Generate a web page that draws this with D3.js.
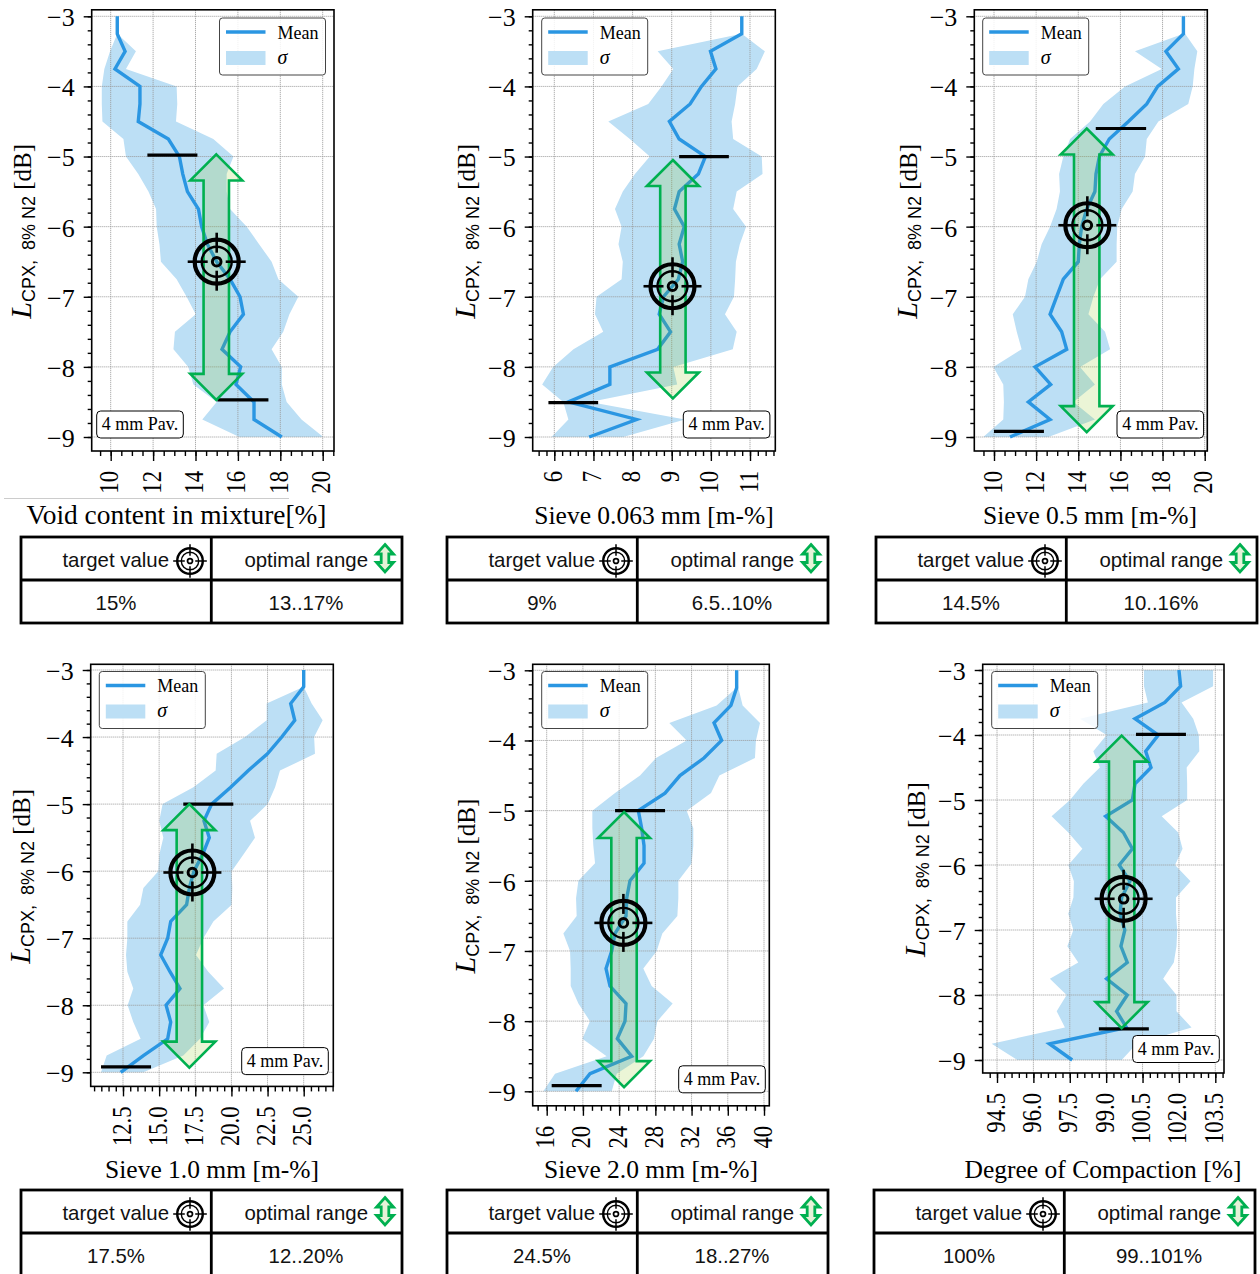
<!DOCTYPE html>
<html>
<head>
<meta charset="utf-8">
<script src="https://cdn.jsdelivr.net/npm/d3@7"></script>
<style>
html,body{margin:0;padding:0;background:#fff;overflow:hidden;}
svg{display:block;}
.serif{font-family:"Liberation Serif",serif;}
.sans{font-family:"Liberation Sans",sans-serif;}
</style>
</head>
<body>
<div id="chart"></div>
<script>
const levels=[-3,-3.25,-3.5,-3.75,-4,-4.25,-4.5,-4.75,-5,-5.25,-5.5,-5.75,-6,-6.25,-6.5,-6.75,-7,-7.25,-7.5,-7.75,-8,-8.25,-8.5,-8.75,-9];

const voidMean=[10.31,10.31,10.68,10.2,11.38,11.38,11.3,12.72,13.24,13.4,13.62,14.14,14.29,14.56,15.0,15.63,16.1,16.26,15.63,15.25,16.13,15.91,16.76,16.76,18.07];
const voidLow=[10.31,10.31,9.97,9.70,9.58,9.58,9.61,10.6,10.72,11.3,11.78,12.14,12.17,12.3,12.37,13.11,13.58,14.01,13.03,12.96,13.66,13.9,15.0,14.32,16.07];
const voidHigh=[10.31,10.31,11.19,10.72,13.11,13.14,13.08,14.84,15.79,15.47,15.47,15.63,16.42,17.0,17.59,17.91,18.85,18.43,18.14,17.59,18.07,18.07,18.3,19.0,20.03];

const s063Mean=[10.79,10.79,9.99,10.13,9.76,9.47,8.94,9.19,9.86,9.68,9.19,9.07,9.32,9.19,9.28,9.17,8.79,8.68,8.97,8.64,7.42,7.42,6.36,8.10,6.89];
const s063Low=[10.79,10.79,8.64,9.04,8.74,8.40,7.38,7.93,8.44,8.06,7.75,7.55,7.72,7.64,7.75,7.72,7.08,7.04,7.25,6.49,5.97,5.69,6.23,6.36,5.93];
const s063High=[10.79,10.79,11.38,11.17,10.68,10.62,10.53,10.57,11.3,11.32,10.66,10.57,10.9,10.74,10.64,10.62,10.59,10.36,10.66,10.56,9.04,9.14,6.91,9.34,7.76];

const s05Mean=[18.99,18.99,18.16,18.75,17.77,17.25,16.38,15.47,15.0,14.84,14.79,14.4,14.16,14.05,14.0,13.29,12.97,12.66,13.21,13.45,11.95,12.69,11.63,12.66,10.76];
const s05Low=[18.99,18.99,16.69,17.96,16.22,15.19,14.56,13.61,13.29,13.09,13.13,12.97,12.66,12.26,12.03,11.63,11.47,10.89,11.08,11.31,9.97,10.44,10.47,10.44,9.49];
const s05High=[18.99,19.07,19.65,19.51,19.43,19.22,17.8,17.25,17.17,16.69,16.58,16.06,15.85,15.82,15.82,15.03,14.72,14.48,15.27,15.51,14.08,14.79,13.77,14.79,12.58];

const s10Mean=[25.0,25.0,24.1,24.38,23.48,22.49,21.17,19.95,18.63,18.1,18.47,18.01,17.41,17.09,16.9,15.8,15.59,15.11,15.75,16.44,15.48,15.8,15.59,13.91,12.34];
const s10Low=[25,25,22.44,22.44,20.94,18.98,18.91,17.37,15.24,15.01,15.29,15.01,14.94,13.91,13.68,12.8,12.8,12.71,12.8,13.21,12.82,13.21,13.72,11.37,10.98];
const s10High=[25,25,25.55,26.31,25.72,25.78,23.36,23.02,22.51,21.29,21.63,20.83,20.02,20.06,20.02,18.75,18.06,17.55,18.4,19.49,18.06,18.47,17.83,16.67,13.91];

const s20Mean=[36.98,36.98,36.35,34.48,35.32,33.37,30.72,29.07,26.12,26.49,26.75,26.75,25.2,24.83,24.76,23.55,23.18,22.55,22.99,24.76,24.65,23.8,25.39,20.78,19.24];
const s20Low=[36.98,36.98,34.77,29.54,31.46,28.07,26.31,23.55,21.04,21.04,21.15,21.34,19.5,19.24,19.31,17.84,18.58,18.65,18.65,19.5,20.78,19.94,22.62,16.92,15.63];
const s20High=[36.98,37.16,37.64,39.56,39.11,39.0,35.07,34.15,31.46,32.19,32.19,32.01,30.54,30.54,30.43,28.77,28.15,26.67,27.59,29.91,28.22,27.85,26.67,23.73,23.18];

const compMean=[102.0,102.07,101.42,100.19,101.15,100.63,100.85,100.19,100.08,98.98,99.71,100.08,99.54,99.98,99.64,99.57,99.77,99.61,99.87,99.02,99.87,99.43,99.84,96.66,97.6];
const compLow=[100.56,100.56,100.72,97.92,99.02,98.47,98.74,98.06,97.51,96.75,97.44,98.02,97.44,97.67,97.65,97.44,97.65,97.4,97.85,96.68,97.37,96.96,97.3,94.28,95.34];
const compHigh=[103.41,103.41,102.11,102.59,102.82,102.84,102.32,102.34,102.34,101.29,101.97,102.15,101.84,102.48,101.88,101.88,101.93,101.9,101.79,101.35,101.9,101.9,102.52,100.26,99.64];

const titles=["Void content in mixture[%]","Sieve 0.063 mm [m-%]","Sieve 0.5 mm [m-%]","Sieve 1.0 mm [m-%]","Sieve 2.0 mm [m-%]","Degree of Compaction [%]"];
const xTicks=[[10,12,14,16,18,20],[6,7,8,9,10,11],[10,12,14,16,18,20],[12.5,15,17.5,20,22.5,25],[16,20,24,28,32,36,40],[94.5,96,97.5,99,100.5,102,103.5]];
const yTicks=[-3,-4,-5,-6,-7,-8,-9];
const minorSteps=[0.5,0.2,0.5,0.5,1,0.3];
const tickFormats=["d","d","d",".1f","d",".1f"];

// target marker [x,y], optimal range arrow [x,top,bottom]
const targets=[[15,-6.5],[9.02,-6.85],[14.43,-5.98],[17.3,-6.02],[24.47,-6.6],[99.72,-6.52]];
const arrows=[[14.98,-4.97,-8.47],[9.03,-5.05,-8.45],[14.4,-4.6,-8.93],[17.09,-5,-8.93],[24.54,-5.02,-8.94],[99.64,-4.01,-8.51]];
// black limit bars [xStart,xEnd,y]
const limitBars=[
  [[11.73,14.09,-4.98],[15.03,17.44,-8.47]],
  [[9.19,10.46,-5.0],[5.85,7.12,-8.51]],
  [[14.83,17.22,-4.6],[10.0,12.37,-8.92]],
  [[16.67,20.13,-5.0],[10.98,14.44,-8.92]],
  [[23.55,29.07,-5.0],[16.55,22.07,-8.92]],
  [[100.23,102.29,-3.99],[98.7,100.76,-8.52]]
];
const targetLabels=["15%","9%","14.5%","17.5%","24.5%","100%"];
const rangeLabels=["13..17%","6.5..10%","10..16%","12..20%","18..27%","99..101%"];

// page layout of each panel
const layouts=[
  {left:91.7,right:334,top:9.8,bottom:451,y3:16.3,y9:437,t0:110.7,t1:322.7,legend:[219.5,18],tag:[96.7,411],labelX:31,titleX:176.5,titleY:524,table:[21,537],size:27.4},
  {left:532.7,right:775.3,top:9.8,bottom:451,y3:16.3,y9:437,t0:554.3,t1:750,legend:[541.7,18],tag:[683.3,411],labelX:475,titleX:654,titleY:523.5,table:[447,537],size:25.5},
  {left:974.3,right:1207.3,top:9.8,bottom:451,y3:16.3,y9:437,t0:994,t1:1204.7,legend:[982.7,18],tag:[1117,411],labelX:917,titleX:1090,titleY:523.5,table:[876,537],size:25.5},
  {left:90.7,right:333.3,top:664.3,bottom:1086.4,y3:670,y9:1072.3,t0:123,t1:303.7,legend:[99.3,671.5],tag:[241.7,1047.6],labelX:30,titleX:212,titleY:1177.5,table:[21,1190],size:25.5},
  {left:532.7,right:769.3,top:664.3,bottom:1105.8,y3:670.3,y9:1091.3,t0:546.7,t1:764,legend:[541.7,671.5],tag:[678.7,1065.8],labelX:475,titleX:651,titleY:1177.5,table:[447,1190],size:25.5},
  {left:982.7,right:1224,top:664.3,bottom:1073,y3:670,y9:1060,t0:997,t1:1215.3,legend:[991.7,671.5],tag:[1132.7,1035.5],labelX:925,titleX:1103,titleY:1177.5,table:[874,1190],size:25.5}
];
const series=[[voidMean,voidLow,voidHigh],[s063Mean,s063Low,s063High],[s05Mean,s05Low,s05High],[s10Mean,s10Low,s10High],[s20Mean,s20Low,s20High],[compMean,compLow,compHigh]];

const lineColor="#2a96e2";
const bandColor="#bcdff5";
const green="#00b050";

const svg=d3.select("#chart").append("svg").attr("width",1260).attr("height",1274);

// stray rule under the first panel
svg.append("line").attr("x1",4).attr("x2",289).attr("y1",498.5).attr("y2",498.5).attr("stroke","#ccc").attr("stroke-width",1);

function arrowPath(cx,top,bottom,shaft,head,len){
  return "M"+cx+","+top+"L"+(cx+head)+","+(top+len)+"L"+(cx+shaft)+","+(top+len)+"L"+(cx+shaft)+","+(bottom-len)
    +"L"+(cx+head)+","+(bottom-len)+"L"+cx+","+bottom+"L"+(cx-head)+","+(bottom-len)+"L"+(cx-shaft)+","+(bottom-len)
    +"L"+(cx-shaft)+","+(top+len)+"L"+(cx-head)+","+(top+len)+"Z";
}

function drawTarget(parent,cx,cy,k){
  const g=parent.append("g").attr("transform","translate("+cx+","+cy+") scale("+k+")").attr("fill","none").attr("stroke","#000");
  g.append("circle").attr("r",22).attr("stroke-width",4.2);
  g.append("circle").attr("r",15).attr("stroke-width",2.4);
  g.append("circle").attr("r",4.3).attr("stroke-width",3);
  [[1,0],[-1,0],[0,1],[0,-1]].forEach(d=>{
    g.append("line").attr("x1",d[0]*9).attr("y1",d[1]*9).attr("x2",d[0]*29).attr("y2",d[1]*29).attr("stroke-width",2.6);
  });
}

function drawPanel(i){
  const lay=layouts[i];
  const mean=series[i][0],low=series[i][1],high=series[i][2];
  const ticks=xTicks[i];
  const x=d3.scaleLinear().domain([ticks[0],ticks[ticks.length-1]]).range([lay.t0,lay.t1]);
  const y=d3.scaleLinear().domain([-3,-9]).range([lay.y3,lay.y9]);
  const g=svg.append("g");

  const area=d3.area().x0((d,j)=>x(low[j])).x1((d,j)=>x(high[j])).y(d=>y(d));
  g.append("path").datum(levels).attr("d",area).attr("fill",bandColor);

  // grid
  g.append("g").selectAll("line").data(ticks).enter().append("line")
    .attr("x1",d=>x(d)).attr("x2",d=>x(d)).attr("y1",lay.top).attr("y2",lay.bottom)
    .attr("stroke","#999").attr("stroke-width",1).attr("stroke-dasharray","1,1");
  g.append("g").selectAll("line").data(yTicks).enter().append("line")
    .attr("x1",lay.left).attr("x2",lay.right).attr("y1",d=>y(d)).attr("y2",d=>y(d))
    .attr("stroke","#999").attr("stroke-width",1).attr("stroke-dasharray","1,1");

  const line=d3.line().x((d,j)=>x(mean[j])).y(d=>y(d));
  g.append("path").datum(levels).attr("d",line).attr("fill","none").attr("stroke",lineColor).attr("stroke-width",3.4);

  limitBars[i].forEach(b=>{
    g.append("line").attr("x1",x(b[0])).attr("x2",x(b[1])).attr("y1",y(b[2])).attr("y2",y(b[2]))
      .attr("stroke","#000").attr("stroke-width",3.2);
  });

  const a=arrows[i];
  g.append("path").attr("d",arrowPath(x(a[0]),y(a[1]),y(a[2]),12.7,26,26))
    .attr("fill","#89c20c").attr("fill-opacity",0.17).attr("stroke",green).attr("stroke-width",2.6);

  drawTarget(g,x(targets[i][0]),y(targets[i][1]),1);

  // frame
  g.append("rect").attr("x",lay.left).attr("y",lay.top).attr("width",lay.right-lay.left).attr("height",lay.bottom-lay.top)
    .attr("fill","none").attr("stroke","#000").attr("stroke-width",1.6);

  // axes
  const step=minorSteps[i];
  const minorX=d3.range(Math.ceil(x.invert(lay.left)/step)*step,x.invert(lay.right),step);
  const axisX=g.append("g").attr("transform","translate(0,"+lay.bottom+")");
  axisX.call(d3.axisBottom(x).tickValues(minorX).tickSize(5).tickFormat(""));
  const majorX=g.append("g").attr("transform","translate(0,"+lay.bottom+")");
  majorX.call(d3.axisBottom(x).tickValues(ticks).tickSize(10).tickFormat(d3.format(tickFormats[i])));
  // the source labels are squeezed along their length
  majorX.selectAll("text")
    .attr("class","serif").style("font-size","27px").attr("fill","#000")
    .attr("text-anchor","end").attr("dy","0.26em").attr("x",0).attr("y",0)
    .attr("transform","translate(0,20) rotate(-90) scale(0.84,1)");

  const minorY=d3.range(-9,-2.99,0.2);
  const axisY=g.append("g").attr("transform","translate("+lay.left+",0)");
  axisY.call(d3.axisLeft(y).tickValues(minorY).tickSize(4).tickFormat(""));
  const majorY=g.append("g").attr("transform","translate("+lay.left+",0)");
  majorY.call(d3.axisLeft(y).tickValues(yTicks).tickSize(8).tickPadding(9).tickFormat(d3.format("d")));
  majorY.selectAll("text").attr("class","serif").style("font-size","26px").attr("fill","#000").attr("dy","0.36em");
  g.selectAll(".domain").remove();
  g.selectAll(".tick line").attr("stroke","#000").attr("stroke-width",1.4);

  // y label
  const mid=(lay.top+lay.bottom)/2+1;
  const lab=g.append("text").attr("transform","translate("+lay.labelX+","+mid+") rotate(-90)").attr("text-anchor","middle").attr("fill","#000");
  lab.append("tspan").attr("class","serif").attr("font-style","italic").attr("font-size",30).text("L");
  lab.append("tspan").attr("class","sans").attr("font-size",18).attr("dy",4).text("CPX,\u00a0\u00a08%\u00a0N2");
  lab.append("tspan").attr("class","serif").attr("font-size",25).attr("dy",-4).text("\u00a0[dB]");

  // x title
  g.append("text").attr("class","serif").attr("x",lay.titleX).attr("y",lay.titleY).attr("text-anchor","middle")
    .attr("font-size",lay.size).attr("fill","#000").text(titles[i]);

  // legend
  const lg=g.append("g").attr("transform","translate("+lay.legend[0]+","+lay.legend[1]+")");
  lg.append("rect").attr("width",106).attr("height",57).attr("rx",3).attr("fill","#fff").attr("fill-opacity",0.85).attr("stroke","#444").attr("stroke-width",1);
  lg.append("line").attr("x1",6.5).attr("x2",46).attr("y1",14).attr("y2",14).attr("stroke",lineColor).attr("stroke-width",3.4);
  lg.append("rect").attr("x",6.5).attr("y",33).attr("width",39.5).attr("height",14).attr("fill",bandColor);
  lg.append("text").attr("class","serif").attr("x",58).attr("y",20.5).attr("font-size",18).attr("fill","#000").text("Mean");
  lg.append("text").attr("class","serif").attr("x",58).attr("y",45.5).attr("font-size",20).attr("font-style","italic").attr("fill","#000").text("\u03c3");

  // pavement tag
  const tg=g.append("g").attr("transform","translate("+lay.tag[0]+","+lay.tag[1]+")");
  tg.append("rect").attr("width",86.6).attr("height",27).attr("rx",4).attr("fill","#fff").attr("stroke","#000").attr("stroke-width",1);
  tg.append("text").attr("class","serif").attr("x",43.3).attr("y",19).attr("text-anchor","middle").attr("font-size",18).attr("fill","#000").text("4 mm Pav.");

  drawTable(i);
}

function drawTable(i){
  const tx=layouts[i].table[0],ty=layouts[i].table[1];
  const w=381,h=86,col=190.3,row=43;
  const t=svg.append("g").attr("transform","translate("+tx+","+ty+")");
  t.append("rect").attr("width",w).attr("height",h).attr("fill","#fff").attr("stroke","#000").attr("stroke-width",2.8);
  t.append("line").attr("x1",col).attr("x2",col).attr("y1",0).attr("y2",h).attr("stroke","#000").attr("stroke-width",2.8);
  t.append("line").attr("x1",0).attr("x2",w).attr("y1",row).attr("y2",row).attr("stroke","#000").attr("stroke-width",2.8);
  const label=(x,y,anchor,txt)=>t.append("text").attr("class","sans").attr("x",x).attr("y",y).attr("text-anchor",anchor)
    .attr("font-size",20.4).attr("fill","#111").text(txt);
  label(148,30,"end","target value");
  label(347,30,"end","optimal range");
  label(95,73,"middle",targetLabels[i]);
  label(285,73,"middle",rangeLabels[i]);
  drawTarget(t,169,24,0.58);
  t.append("path").attr("d",arrowPath(364,7.5,35,3.8,8.5,9.5)).attr("fill","#e6f2d8").attr("stroke",green).attr("stroke-width",2.8);
}

layouts.forEach((d,i)=>drawPanel(i));
</script>
</body>
</html>
